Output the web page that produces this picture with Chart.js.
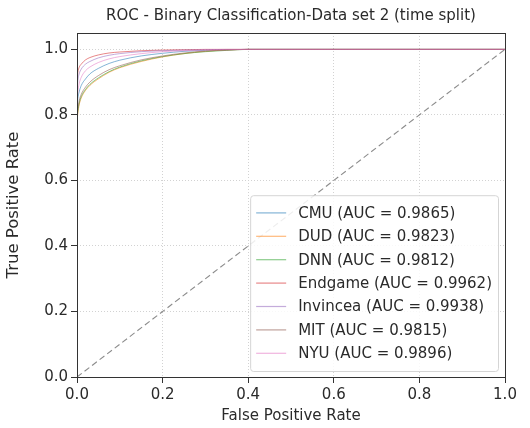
<!DOCTYPE html>
<html>
<head>
<meta charset="utf-8">
<script src="https://cdn.jsdelivr.net/npm/chart.js@4.4.1/dist/chart.umd.min.js"></script>
<style>
  body { margin: 0; background: #fff; }
  #wrap { width: 530px; height: 428px; }
</style>
</head>
<body>
<div id="wrap"><canvas id="chart_roc" width="530" height="428"></canvas></div>
<script>
// false positive rate sample points (shared by all curves)
var fpr = [0, 0.002, 0.005, 0.01, 0.02, 0.03, 0.05, 0.075, 0.1, 0.15, 0.2, 0.25, 0.3, 0.35, 0.4, 1.0];

var tprCMU      = [0.82, 0.85, 0.87, 0.89, 0.91, 0.925, 0.942, 0.957, 0.967, 0.98, 0.988, 0.994, 0.997, 0.999, 1.0, 1.0];
var tprDUD      = [0.78, 0.805, 0.83, 0.852, 0.875, 0.89, 0.91, 0.93, 0.944, 0.963, 0.977, 0.987, 0.994, 0.998, 1.0, 1.0];
var tprDNN      = [0.79, 0.812, 0.835, 0.856, 0.878, 0.893, 0.913, 0.932, 0.946, 0.965, 0.978, 0.987, 0.993, 0.997, 1.0, 1.0];
var tprEndgame  = [0.90, 0.93, 0.945, 0.955, 0.968, 0.975, 0.983, 0.989, 0.992, 0.996, 0.998, 0.999, 1.0, 1.0, 1.0, 1.0];
var tprInvincea = [0.87, 0.905, 0.925, 0.94, 0.955, 0.963, 0.974, 0.982, 0.987, 0.993, 0.996, 0.998, 0.999, 1.0, 1.0, 1.0];
var tprMIT      = [0.80, 0.82, 0.843, 0.863, 0.885, 0.9, 0.92, 0.938, 0.95, 0.968, 0.98, 0.989, 0.995, 0.998, 1.0, 1.0];
var tprNYU      = [0.84, 0.87, 0.895, 0.915, 0.935, 0.946, 0.96, 0.971, 0.978, 0.987, 0.993, 0.996, 0.998, 0.999, 1.0, 1.0];

var models = ['CMU', 'DUD', 'DNN', 'Endgame', 'Invincea', 'MIT', 'NYU'];
var aucs   = ['0.9865', '0.9823', '0.9812', '0.9962', '0.9938', '0.9815', '0.9896'];
var tprs   = [tprCMU, tprDUD, tprDNN, tprEndgame, tprInvincea, tprMIT, tprNYU];
var colors = ['rgba(31,119,180,0.55)', 'rgba(255,127,14,0.55)', 'rgba(44,160,44,0.55)', 'rgba(214,39,40,0.55)',
              'rgba(148,103,189,0.55)', 'rgba(140,86,75,0.55)', 'rgba(227,119,194,0.55)'];

var chanceX = [0, 1];
var chanceY = [0, 1];

var xTicks = [0, 0.2, 0.4, 0.6, 0.8, 1.0];
var yTicks = [0, 0.2, 0.4, 0.6, 0.8, 1.0];

var chartTitle = 'ROC - Binary Classification-Data set 2 (time split)';
var FONT = 'DejaVu Sans';
var TEXT = '#2a2a2a';

var datasets = models.map(function(name, k) {
    return {
        label: name + ' (AUC = ' + aucs[k] + ')',
        data: fpr.map(function(x, i) { return {x: x, y: tprs[k][i]}; }),
        borderColor: colors[k],
        borderWidth: 1,
        pointRadius: 0,
        showLine: true,
        cubicInterpolationMode: 'monotone',
        order: models.length - k
    };
});
datasets.push({
    label: 'chance',
    data: chanceX.map(function(x, i) { return {x: x, y: chanceY[i]}; }),
    borderColor: 'rgba(110,110,110,0.8)',
    borderWidth: 1.1,
    borderDash: [6, 3.5],
    pointRadius: 0,
    showLine: true,
    order: 0
});

var framePlugin = {
    id: 'frame',
    afterDatasetsDraw: function(chart) {
        var a = chart.chartArea, ctx = chart.ctx;
        ctx.save();
        ctx.strokeStyle = '#333';
        ctx.lineWidth = 1;
        ctx.strokeRect(Math.round(a.left) + 0.5, Math.round(a.top) + 0.5,
                       Math.round(a.right - a.left), Math.round(a.bottom - a.top));
        // title centred over the axes, like matplotlib
        ctx.fillStyle = TEXT;
        ctx.font = '15px "' + FONT + '"';
        ctx.textAlign = 'center';
        ctx.textBaseline = 'middle';
        ctx.fillText(chartTitle, (a.left + a.right) / 2, 16);
        ctx.restore();
    }
};

// matplotlib-style legend, lower right inside the axes
var insideLegend = {
    id: 'insideLegend',
    afterDraw: function(chart) {
        var ctx = chart.ctx, a = chart.chartArea;
        var fs = 15, rowH = 23.4, pad = 6, handle = 30, gap = 12;
        var items = chart.data.datasets.filter(function(d) { return d.label !== 'chance'; });
        ctx.save();
        ctx.font = fs + 'px "' + FONT + '"';
        var maxW = 0;
        items.forEach(function(d) { maxW = Math.max(maxW, ctx.measureText(d.label).width); });
        var w = pad + handle + gap + maxW + pad;
        var h = rowH * items.length + 12;
        var right = a.right - 7, bottom = a.bottom - 6;
        var left = right - w, top = bottom - h;
        ctx.beginPath();
        ctx.roundRect(left + 0.5, top + 0.5, w, h, 3);
        ctx.fillStyle = 'rgba(255,255,255,0.85)';
        ctx.fill();
        ctx.strokeStyle = '#d5d5d5';
        ctx.lineWidth = 1;
        ctx.stroke();
        ctx.textBaseline = 'middle';
        ctx.textAlign = 'left';
        items.forEach(function(d, i) {
            var cy = top + 6 + rowH * (i + 0.5);
            ctx.strokeStyle = d.borderColor;
            ctx.lineWidth = 1.2;
            ctx.beginPath();
            ctx.moveTo(left + pad, cy);
            ctx.lineTo(left + pad + handle, cy);
            ctx.stroke();
            ctx.fillStyle = TEXT;
            ctx.fillText(d.label, left + pad + handle + gap, cy + 1);
        });
        ctx.restore();
    }
};

var chart_roc = new Chart(document.getElementById('chart_roc'), {
    type: 'scatter',
    data: { datasets: datasets },
    options: {
        animation: false,
        responsive: false,
        layout: { padding: { left: 0, right: 25, top: 33, bottom: 0 } },
        plugins: {
            legend: { display: false },
            tooltip: { enabled: false },
            title: { display: false }
        },
        scales: {
            x: {
                type: 'linear',
                min: 0,
                max: 1,
                afterBuildTicks: function(scale) {
                    scale.ticks = xTicks.map(function(v) { return {value: v}; });
                },
                afterFit: function(scale) { scale.height = 51; },
                ticks: {
                    color: TEXT,
                    padding: 3,
                    font: { family: FONT, size: 15 },
                    callback: function(v) { return Number(v).toFixed(1); }
                },
                grid: {
                    color: '#d2d2d2',
                    tickColor: '#333',
                    tickLength: 6,
                    tickBorderDash: []
                },
                border: { display: false, dash: [1, 2] },
                title: {
                    display: true,
                    text: 'False Positive Rate',
                    color: TEXT,
                    font: { family: FONT, size: 15 },
                    padding: { top: 0, bottom: 3 }
                }
            },
            y: {
                type: 'linear',
                min: 0,
                max: 1.05,
                afterBuildTicks: function(scale) {
                    scale.ticks = yTicks.map(function(v) { return {value: v}; });
                },
                afterFit: function(scale) { scale.width = 77; },
                ticks: {
                    color: TEXT,
                    padding: 3,
                    font: { family: FONT, size: 15 },
                    callback: function(v) { return Number(v).toFixed(1); }
                },
                grid: {
                    color: '#d2d2d2',
                    tickColor: '#333',
                    tickLength: 6,
                    tickBorderDash: []
                },
                border: { display: false, dash: [1, 2] },
                title: {
                    display: true,
                    text: 'True Positive Rate',
                    color: TEXT,
                    font: { family: FONT, size: 16.5 },
                    padding: { top: 4, bottom: 0 }
                }
            }
        }
    },
    plugins: [framePlugin, insideLegend]
});
</script>
</body>
</html>
